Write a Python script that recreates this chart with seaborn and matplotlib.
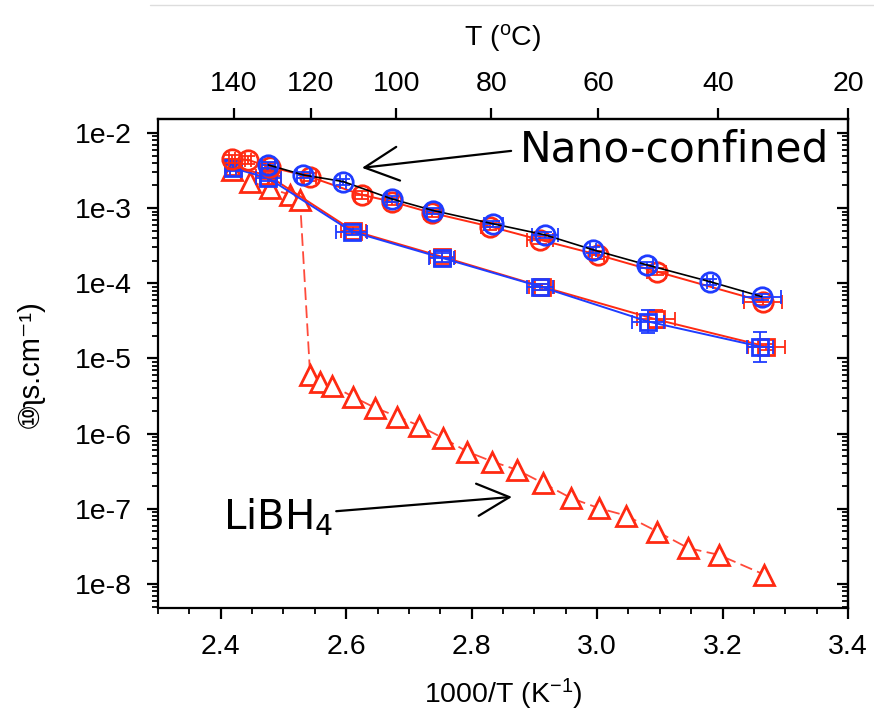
import numpy as np
import pandas as pd
import matplotlib
matplotlib.use("Agg")
import matplotlib.pyplot as plt
from matplotlib.ticker import MultipleLocator, NullFormatter, LogLocator
from matplotlib.lines import Line2D
import seaborn as sns

# ---------------- data ----------------
# nano-confined, red circles
rc_x = [2.4175, 2.4435, 2.4785, 2.5423, 2.6247, 2.6726, 2.7363, 2.8293, 2.9090, 3.0014, 3.0950, 3.2645]
rc_y = [4.47e-3, 4.37e-3, 3.53e-3, 2.60e-3, 1.50e-3, 1.22e-3, 8.63e-4, 5.68e-4, 3.78e-4, 2.39e-4, 1.43e-4, 5.71e-5]
rc_xerr = [0.005, 0.005, 0.008, 0.010, 0.010, 0.010, 0.012, 0.015, 0.020, 0.010, 0.015, 0.030]
rc_ydec = [0.05, 0.05, 0.05, 0.05, 0.05, 0.05, 0.05, 0.05, 0.05, 0.05, 0.05, 0.05]

# nano-confined, blue circles (black connecting line)
bc_x = [2.4758, 2.5316, 2.5954, 2.6726, 2.7389, 2.8345, 2.9170, 2.9940, 3.0790, 3.1800, 3.2624]
bc_y = [3.75e-3, 2.76e-3, 2.25e-3, 1.325e-3, 9.27e-4, 6.17e-4, 4.40e-4, 2.78e-4, 1.76e-4, 1.05e-4, 6.65e-5]
bc_xerr = [0.010, 0.010, 0.005, 0.008, 0.010, 0.015, 0.020, 0.005, 0.010, 0.005, 0.030]
bc_ydec = [0.04, 0.04, 0.04, 0.04, 0.04, 0.04, 0.04, 0.04, 0.04, 0.04, 0.04]

# red squares
rs_x = [2.4200, 2.4758, 2.6110, 2.7530, 2.9117, 3.0944, 3.2700]
rs_y = [3.55e-3, 2.70e-3, 5.00e-4, 2.25e-4, 9.04e-5, 3.30e-5, 1.44e-5]
rs_xerr = [0.005, 0.020, 0.020, 0.020, 0.020, 0.030, 0.030]
rs_ydec = [0.04, 0.04, 0.05, 0.08, 0.04, 0.12, 0.04]

# blue squares
bs_x = [2.4200, 2.4758, 2.6088, 2.7523, 2.9090, 3.0811, 3.2597]
bs_y = [3.40e-3, 2.50e-3, 4.87e-4, 2.18e-4, 9.04e-5, 3.10e-5, 1.44e-5]
bs_xerr = [0.005, 0.020, 0.025, 0.020, 0.020, 0.025, 0.020]
bs_ydec = [0.04, 0.04, 0.04, 0.06, 0.04, 0.15, 0.20]

# bulk LiBH4, red triangles
tr_x = [2.4180, 2.4467, 2.4785, 2.5104, 2.5264, 2.5425, 2.5590, 2.5777, 2.6107, 2.6453,
        2.6816, 2.7167, 2.7545, 2.7929, 2.8328, 2.8725, 2.9136, 2.9585, 3.0030, 3.0460,
        3.0958, 3.1454, 3.1938, 3.2667]
tr_y = [3.22e-3, 2.25e-3, 1.84e-3, 1.50e-3, 1.29e-3, 6.05e-6, 4.93e-6, 4.32e-6, 3.11e-6, 2.22e-6,
        1.69e-6, 1.27e-6, 8.71e-7, 5.78e-7, 4.26e-7, 3.30e-7, 2.20e-7, 1.39e-7, 1.02e-7, 8.15e-8,
        4.99e-8, 3.00e-8, 2.45e-8, 1.33e-8]

# axes
x_ticks = [2.4, 2.6, 2.8, 3.0, 3.2, 3.4]
x_ticklabels = ["2.4", "2.6", "2.8", "3.0", "3.2", "3.4"]
y_ticks = [1e-8, 1e-7, 1e-6, 1e-5, 1e-4, 1e-3, 1e-2]
y_ticklabels = ["1e-8", "1e-7", "1e-6", "1e-5", "1e-4", "1e-3", "1e-2"]
top_T = [140, 120, 100, 80, 60, 40, 20]

RED = "#ff2a12"
BLUE = "#1f3cff"
RED_LINE = "#ff4a3a"
TICK_FS = 20.5

# ---------------- style ----------------
sns.set_theme(style="ticks")
plt.rcParams["font.family"] = ["Liberation Sans", "DejaVu Sans", "Noto Sans CJK JP"]
plt.rcParams["mathtext.default"] = "regular"

fig = plt.figure(figsize=(8.74, 7.24), dpi=100)
ax = fig.add_axes([158 / 874, 1 - 608 / 724, (848 - 158) / 874, (608 - 119) / 724])
ax.set_facecolor("white")


def yerr_of(y, dec):
    y = np.asarray(y)
    d = np.asarray(dec)
    return np.vstack([y - y * 10 ** (-d), y * 10 ** d - y])


def series(x, y, line_color, mcolor, marker, ms, ls="-", lw=1.4, mfc="none", z=3):
    df = pd.DataFrame({"x": x, "y": y})
    sns.lineplot(data=df, x="x", y="y", ax=ax, color=line_color, linewidth=lw,
                 linestyle=ls, marker=marker, markersize=ms,
                 markerfacecolor=mfc, markeredgecolor=mcolor, markeredgewidth=2.0,
                 estimator=None, sort=False, zorder=z, legend=False)


# LiBH4 bulk
series(tr_x, tr_y, RED_LINE, RED, "^", 14, ls=(0, (7, 3)), lw=1.3, mfc="white", z=2)

# squares
ax.errorbar(rs_x, rs_y, xerr=rs_xerr, yerr=yerr_of(rs_y, rs_ydec), fmt="none",
            ecolor=RED, elinewidth=1.3, capsize=5, capthick=1.3, zorder=3)
series(rs_x, rs_y, RED, RED, "s", 11, z=3)
ax.errorbar(bs_x, bs_y, xerr=bs_xerr, yerr=yerr_of(bs_y, bs_ydec), fmt="none",
            ecolor=BLUE, elinewidth=1.3, capsize=5, capthick=1.3, zorder=4)
series(bs_x, bs_y, BLUE, BLUE, "s", 11, z=4)

# circles
ax.errorbar(rc_x, rc_y, xerr=rc_xerr, yerr=yerr_of(rc_y, rc_ydec), fmt="none",
            ecolor=RED, elinewidth=1.3, capsize=5, capthick=1.3, zorder=5)
series(rc_x, rc_y, RED, RED, "o", 14, z=5)
ax.errorbar(bc_x, bc_y, xerr=bc_xerr, yerr=yerr_of(bc_y, bc_ydec), fmt="none",
            ecolor=BLUE, elinewidth=1.3, capsize=5, capthick=1.3, zorder=6)
series(bc_x, bc_y, "black", BLUE, "o", 14, lw=1.2, z=6)

# ---------------- axes ----------------
ax.set_yscale("log")
ax.set_xlim(2.3, 3.4)
ax.set_ylim(4.8e-9, 1.53e-2)
ax.set_xticks(x_ticks, x_ticklabels)
ax.xaxis.set_minor_locator(MultipleLocator(0.05))
ax.set_yticks(y_ticks, y_ticklabels)
ax.yaxis.set_minor_locator(LogLocator(base=10, subs=np.arange(2, 10)))
ax.yaxis.set_minor_formatter(NullFormatter())
ax.set_xlabel("")
ax.set_ylabel("")

for s in ax.spines.values():
    s.set_linewidth(1.6)
    s.set_color("black")

ax.tick_params(axis="both", which="major", length=8, width=1.6, color="black",
               labelsize=TICK_FS, labelcolor="black", direction="out")
ax.tick_params(axis="y", which="major", pad=11)
ax.tick_params(axis="x", which="major", pad=11)
ax.tick_params(axis="both", which="minor", length=4, width=1.3, color="black", direction="out")
ax.tick_params(top=False, right=False, which="both")

# right side: inward ticks
sec_y = ax.secondary_yaxis("right")
sec_y.set_yticks(y_ticks, [""] * len(y_ticks))
sec_y.yaxis.set_minor_locator(LogLocator(base=10, subs=np.arange(2, 10)))
sec_y.yaxis.set_minor_formatter(NullFormatter())
sec_y.tick_params(which="major", direction="in", length=8, width=1.6, color="black")
sec_y.tick_params(which="minor", direction="in", length=4, width=1.3, color="black")
sec_y.spines["right"].set_linewidth(1.6)

# top: temperature axis
top_pos = np.minimum(1000.0 / (np.array(top_T) + 273.15), 3.4)
sec_x = ax.secondary_xaxis("top")
sec_x.set_xticks(top_pos, [str(t) for t in top_T])
sec_x.xaxis.set_minor_locator(matplotlib.ticker.NullLocator())
sec_x.tick_params(direction="out", length=8, width=1.6, color="black",
                  labelsize=TICK_FS, labelcolor="black", pad=8)
sec_x.spines["top"].set_linewidth(1.6)
sec_x.set_xlabel("T ($^{o}$C)", fontsize=TICK_FS, labelpad=18, color="black")

ax.set_xlabel("1000/T (K$^{-1}$)", fontsize=TICK_FS, labelpad=12, color="black")

fig.text(30 / 874, 1 - 364 / 724, "⑩ʅs.cm⁻¹)", rotation=90, ha="center", va="center",
         fontsize=21, color="black",
         family=["Liberation Sans", "DejaVu Sans", "Noto Sans CJK JP"])

# ---------------- annotations ----------------
ax.annotate("Nano-confined", xy=(2.6252, 3.43e-3), xytext=(2.877, 5.94e-3),
            fontsize=30.5, ha="left", va="center", color="black", family="DejaVu Sans",
            arrowprops=dict(arrowstyle="->,head_length=0.8,head_width=0.4", lw=1.6,
                            color="black", relpos=(0, 0.5), shrinkA=4, shrinkB=0),
            zorder=10)
ax.annotate("LiBH$_4$", xy=(2.8643, 1.44e-7), xytext=(2.403, 7.6e-8),
            fontsize=29, ha="left", va="center", color="black", family="DejaVu Sans",
            arrowprops=dict(arrowstyle="->,head_length=0.8,head_width=0.4", lw=1.6,
                            color="black", relpos=(0.85, 0.62), shrinkA=0, shrinkB=0),
            zorder=10)

# faint line at the top of the picture
fig.add_artist(Line2D([150 / 874, 1.0], [1 - 5 / 724, 1 - 5 / 724], color="#dddddd", lw=1))

fig.savefig("out.png", dpi=100, facecolor="white")
